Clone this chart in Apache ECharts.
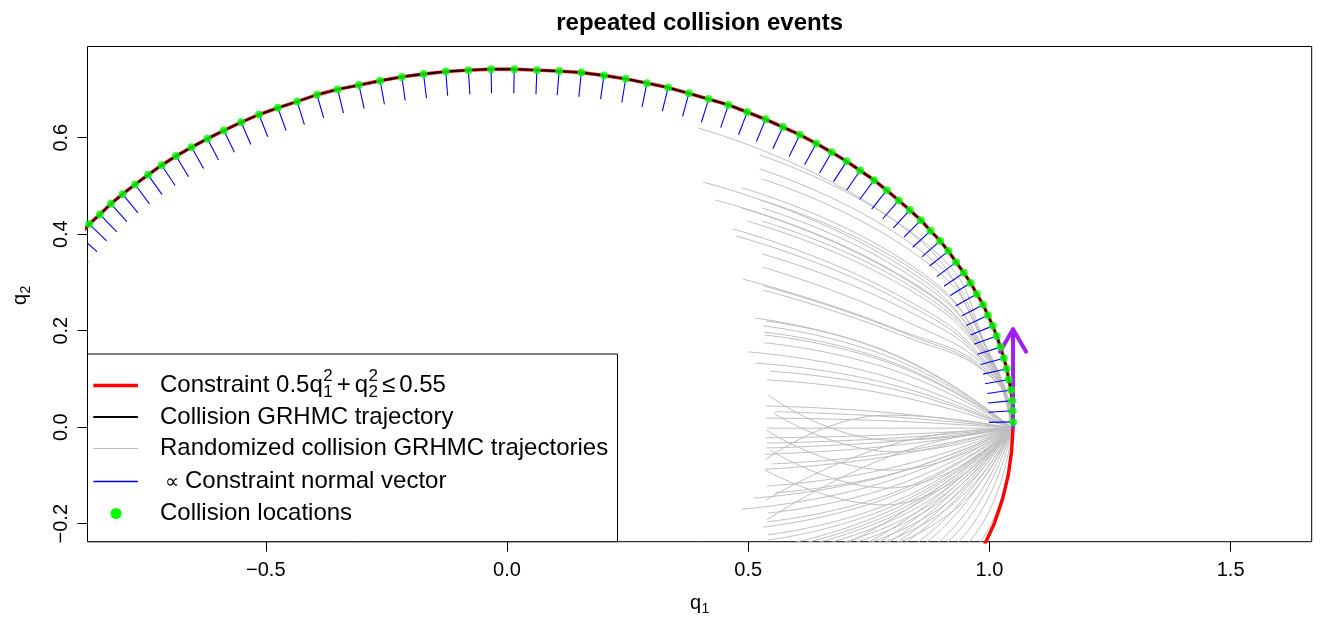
<!DOCTYPE html>
<html><head><meta charset="utf-8">
<script src="https://cdn.jsdelivr.net/npm/echarts/dist/echarts.min.js"></script>
<style>html,body{margin:0;padding:0;background:#fff}#c{width:1327px;height:624px}</style>
</head><body><div id="c"></div>
<script>
// ---------------- data ----------------
const titleText = 'repeated collision events';
const xTicks = [-0.5, 0, 0.5, 1, 1.5];
const xTickLabels = ['\u22120.5', '0.0', '0.5', '1.0', '1.5'];
const yTicks = [-0.2, 0, 0.2, 0.4, 0.6];
const yTickLabels = ['\u22120.2', '0.0', '0.2', '0.4', '0.6'];
const X_MIN = -0.8696, X_MAX = 1.6681;
const Y_MIN = -0.2373, Y_MAX = 0.7890;

// collision locations (green points), ordered along the trajectory
const collisionQ1 = [1.049,1.048,1.047,1.045,1.040,1.036,1.030,1.023,1.015,1.007,0.997,0.987,0.974,0.961,0.947,0.931,0.915,0.898,0.878,0.858,0.835,0.812,0.787,0.761,0.732,0.704,0.673,0.641,0.607,0.572,0.536,0.498,0.459,0.418,0.377,0.334,0.290,0.246,0.201,0.154,0.108,0.062,0.015,-0.033,-0.080,-0.127,-0.173,-0.218,-0.263,-0.307,-0.351,-0.394,-0.435,-0.475,-0.514,-0.551,-0.587,-0.621,-0.654,-0.686,-0.716,-0.744,-0.771,-0.797,-0.821,-0.844,-0.866,-0.887,-0.907];
const collisionQ2 = [0.011,0.034,0.055,0.077,0.099,0.121,0.143,0.166,0.189,0.210,0.232,0.254,0.276,0.299,0.320,0.342,0.365,0.386,0.407,0.429,0.450,0.470,0.491,0.512,0.532,0.551,0.570,0.588,0.606,0.622,0.638,0.653,0.668,0.680,0.692,0.704,0.713,0.722,0.729,0.735,0.738,0.740,0.742,0.742,0.740,0.737,0.732,0.726,0.718,0.709,0.700,0.689,0.675,0.662,0.648,0.632,0.615,0.598,0.580,0.562,0.543,0.523,0.503,0.483,0.463,0.441,0.421,0.397,0.374];
// tips of the (scaled) constraint normal vectors (blue segments)
const normalEndQ1 = [0.999,0.998,0.997,0.996,0.991,0.987,0.982,0.975,0.968,0.961,0.952,0.943,0.930,0.919,0.906,0.891,0.876,0.860,0.841,0.823,0.801,0.779,0.756,0.731,0.704,0.677,0.648,0.617,0.585,0.551,0.517,0.480,0.443,0.403,0.364,0.322,0.280,0.238,0.194,0.149,0.104,0.060,0.014,-0.032,-0.077,-0.123,-0.167,-0.211,-0.254,-0.296,-0.339,-0.380,-0.420,-0.458,-0.496,-0.531,-0.565,-0.598,-0.629,-0.660,-0.688,-0.715,-0.741,-0.765,-0.788,-0.809,-0.830,-0.850,-0.868];
const normalEndQ2 = [0.010,0.031,0.050,0.070,0.090,0.110,0.130,0.151,0.172,0.191,0.211,0.231,0.251,0.273,0.292,0.312,0.334,0.353,0.373,0.394,0.413,0.432,0.452,0.472,0.491,0.509,0.527,0.544,0.561,0.577,0.592,0.606,0.621,0.632,0.644,0.655,0.664,0.673,0.680,0.685,0.688,0.690,0.692,0.692,0.690,0.687,0.682,0.677,0.669,0.660,0.651,0.641,0.627,0.615,0.602,0.586,0.570,0.554,0.536,0.519,0.501,0.482,0.463,0.444,0.426,0.405,0.386,0.364,0.342];

// constraint boundary pieces outside the collision run
const constraintLower = [[0.959,-0.300],[0.987,-0.250],[1.010,-0.200],[1.027,-0.150],[1.039,-0.100],[1.046,-0.050],[1.049,0.000]];
const constraintLeft = [[-0.950,0.314],[-1.000,0.224]];

const trajectoryStart = [1.049, 0.000];
const arrowFrom = [1.049, 0.000];
const arrowTo = [1.049, 0.203];

// randomized trajectories: common start, optional point where it leaves the boundary,
// a mid point and an end point each
const grayStart = [1.047, -0.002];
const grayViaQ1 = [0.998,0.999,1.000,1.001,1.002,1.003,1.004,1.005,1.006,1.007,1.008,1.009,1.010,1.010,1.011,1.012,1.013,1.013,1.014,
  null,null,null,null,null,null,null,null,null,null,
  null,null,null,null,null,null,null,null,null,null,
  null,null,null,null,null,null,null,null,null,
  null,null,null,null,null,null,null,null,null,null,null,null,null,
  null,null,null,null,null,null,null,null,
  null,null,null,null,null,null,null,null,null];
const grayViaQ2 = [0.158,0.154,0.151,0.147,0.144,0.140,0.137,0.133,0.130,0.126,0.122,0.119,0.115,0.112,0.108,0.104,0.101,0.097,0.094,
  null,null,null,null,null,null,null,null,null,null,
  null,null,null,null,null,null,null,null,null,null,
  null,null,null,null,null,null,null,null,null,
  null,null,null,null,null,null,null,null,null,null,null,null,null,
  null,null,null,null,null,null,null,null,
  null,null,null,null,null,null,null,null,null];
const grayMidQ1 = [0.822,0.881,0.874,0.872,0.800,0.843,0.805,0.859,0.830,0.854,0.830,0.848,0.808,0.808,0.831,0.824,0.798,0.818,0.817,
  0.797,0.809,0.804,0.803,0.804,0.801,0.782,0.787,0.801,0.796,
  0.793,0.802,0.792,0.793,0.792,0.793,0.793,0.792,0.800,0.794,
  0.798,0.808,0.787,0.776,0.805,0.806,0.803,0.811,0.812,
  0.703,0.747,0.770,0.792,0.813,0.832,0.858,0.878,0.905,0.925,0.948,0.972,0.996,
  0.804,0.794,0.790,0.784,0.800,0.794,0.800,0.790,
  0.814,0.828,0.842,0.858,0.874,0.889,0.908,0.926,0.944];
const grayMidQ2 = [0.414,0.370,0.353,0.340,0.345,0.332,0.321,0.315,0.304,0.302,0.287,0.285,0.275,0.266,0.241,0.221,0.207,0.197,0.191,
  0.152,0.148,0.141,0.133,0.129,0.118,0.106,0.091,0.079,0.067,
  0.030,0.021,0.013,-0.002,-0.016,-0.023,-0.030,-0.039,-0.053,-0.060,
  -0.084,-0.094,-0.101,-0.116,-0.121,-0.134,-0.141,-0.151,-0.158,
  -0.241,-0.240,-0.239,-0.238,-0.236,-0.235,-0.234,-0.232,-0.229,-0.227,-0.224,-0.220,-0.215,
  -0.051,-0.089,-0.126,-0.161,-0.027,-0.037,-0.058,0.025,
  -0.164,-0.164,-0.163,-0.162,-0.162,-0.161,-0.160,-0.158,-0.157];
const grayEndQ1 = [0.396,0.524,0.524,0.529,0.406,0.487,0.431,0.524,0.487,0.529,0.498,0.529,0.468,0.475,0.529,0.529,0.489,0.531,0.531,
  0.514,0.537,0.531,0.533,0.535,0.533,0.500,0.514,0.545,0.539,
  0.537,0.556,0.537,0.539,0.537,0.539,0.537,0.535,0.549,0.535,
  0.539,0.556,0.512,0.487,0.541,0.539,0.531,0.541,0.541,
  0.301,0.384,0.425,0.466,0.504,0.539,0.587,0.622,0.670,0.705,0.746,0.788,0.829,
  0.553,0.537,0.545,0.535,0.541,0.537,0.539,0.535,
  0.543,0.570,0.597,0.626,0.655,0.684,0.717,0.750,0.784];
const grayEndQ2 = [0.620,0.564,0.535,0.514,0.508,0.496,0.471,0.471,0.454,0.454,0.427,0.427,0.411,0.396,0.359,0.332,0.307,0.293,0.284,
  0.226,0.220,0.210,0.197,0.191,0.175,0.156,0.133,0.116,0.098,
  0.044,0.032,0.019,-0.002,-0.022,-0.033,-0.043,-0.056,-0.076,-0.087,
  -0.122,-0.136,-0.147,-0.170,-0.178,-0.196,-0.207,-0.223,-0.234,
  -0.358,-0.358,-0.358,-0.358,-0.358,-0.358,-0.358,-0.358,-0.358,-0.358,-0.358,-0.358,-0.358,
  0.029,-0.006,-0.047,-0.089,0.067,-0.151,-0.192,-0.068,
  -0.250,-0.250,-0.250,-0.250,-0.250,-0.250,-0.250,-0.250,-0.250];

const legendLabels = ['Collision GRHMC trajectory', 'Randomized collision GRHMC trajectories', 'Constraint normal vector', 'Collision locations'];

// ---------------- styling / layout ----------------
const FONT = '"Liberation Sans", Arial, Helvetica, sans-serif';
const COL = {red:'#FF0000', black:'#000000', gray:'#BEBEBE', blue:'#0000FF', green:'#00FF00', purple:'#A020F0'};

const collisionPts = collisionQ1.map((v, i) => [v, collisionQ2[i]]);
const constraintPts = constraintLower.concat(collisionPts, constraintLeft);
const trajectoryPts = [trajectoryStart].concat(collisionPts);
const normalRows = collisionQ1.map((v, i) => [v, collisionQ2[i], normalEndQ1[i], normalEndQ2[i]]);

function lab(ticks, labels) {
  return v => { for (let i = 0; i < ticks.length; i++) if (Math.abs(ticks[i] - v) < 1e-9) return labels[i]; return ''; };
}

const series = [];
for (let i = 0; i < grayEndQ1.length; i++) {
  const pts = [grayStart];
  if (grayViaQ1[i] !== null) pts.push([grayViaQ1[i], grayViaQ2[i]]);
  pts.push([grayMidQ1[i], grayMidQ2[i]], [grayEndQ1[i], grayEndQ2[i]]);
  series.push({
    type: 'line', silent: true, smooth: true, symbol: 'none', z: 1, clip: true,
    data: pts, lineStyle: {color: COL.gray, width: 1}
  });
}
series.push({type: 'line', silent: true, symbol: 'none', z: 2, clip: true, data: constraintPts,
  lineStyle: {color: COL.red, width: 3.4}});
series.push({type: 'line', silent: true, symbol: 'none', z: 3, clip: true, data: trajectoryPts,
  lineStyle: {color: COL.black, width: 1.8}});
series.push({type: 'custom', silent: true, z: 4, clip: true, data: normalRows,
  encode: {x: [0, 2], y: [1, 3]},
  renderItem: (params, api) => {
    const a = api.coord([api.value(0), api.value(1)]);
    const b = api.coord([api.value(2), api.value(3)]);
    return {type: 'line', shape: {x1: a[0], y1: a[1], x2: b[0], y2: b[1]}, style: {stroke: COL.blue, lineWidth: 1.1}};
  }});
series.push({type: 'custom', silent: true, z: 5, clip: true,
  data: [[arrowFrom[0], arrowFrom[1], arrowTo[0], arrowTo[1]]],
  encode: {x: [0, 2], y: [1, 3]},
  renderItem: (params, api) => {
    const a = api.coord([api.value(0), api.value(1)]);
    const b = api.coord([api.value(2), api.value(3)]);
    const ang = Math.atan2(b[1] - a[1], b[0] - a[0]);
    const L = 26, s = Math.PI / 6;
    const l = [b[0] - L * Math.cos(ang - s), b[1] - L * Math.sin(ang - s)];
    const r = [b[0] - L * Math.cos(ang + s), b[1] - L * Math.sin(ang + s)];
    return {type: 'group', children: [
      {type: 'line', shape: {x1: a[0], y1: a[1], x2: b[0], y2: b[1]}, style: {stroke: COL.purple, lineWidth: 4, lineCap: 'round'}},
      {type: 'polyline', shape: {points: [l, b, r]}, style: {stroke: COL.purple, lineWidth: 4, fill: null, lineCap: 'round', lineJoin: 'round'}}
    ]};
  }});
series.push({type: 'scatter', silent: true, z: 6, data: collisionPts, symbol: 'circle', symbolSize: 8,
  itemStyle: {color: COL.green}});

// ---------------- text measurement for legend math ----------------
const mctx = document.createElement('canvas').getContext('2d');
function tw(str, size, weight) { mctx.font = (weight ? weight + ' ' : '') + size + 'px ' + FONT; return mctx.measureText(str).width; }

const G = [];
function txt(x, y, s, size, opt) {
  opt = opt || {};
  G.push({type: 'text', x: x, y: y, z: 100, silent: true, rotation: opt.rot || 0,
    style: {text: s, fill: '#000', font: (opt.weight ? opt.weight + ' ' : '') + size + 'px ' + FONT,
      textAlign: opt.align || 'left', align: opt.align || 'left',
      textVerticalAlign: opt.va || 'middle', verticalAlign: opt.va || 'middle'}});
}
// title
txt(699.6, 23, titleText, 24, {weight: 'bold', align: 'center'});
// x axis title q1
txt(701, 603, 'q', 20, {align: 'right'});
txt(701.5, 609, '1', 14, {align: 'left'});
// y axis title q2 (rotated)
G.push({type: 'group', x: 20, y: 294, rotation: Math.PI / 2, z: 100, silent: true, children: [
  {type: 'text', x: 0, y: 0, style: {text: 'q', fill: '#000', font: '20px ' + FONT, textAlign: 'right', align: 'right', textVerticalAlign: 'middle', verticalAlign: 'middle'}},
  {type: 'text', x: 0.5, y: 6, style: {text: '2', fill: '#000', font: '14px ' + FONT, textAlign: 'left', align: 'left', textVerticalAlign: 'middle', verticalAlign: 'middle'}}
]});

// legend box
const LB = {x: 87.5, y: 354, w: 530, h: 187.7};
G.push({type: 'rect', z: 99, silent: true, shape: {x: LB.x, y: LB.y, width: LB.w, height: LB.h},
  style: {fill: '#fff', stroke: '#000', lineWidth: 1}});
const rows = [385.5, 417, 448.5, 481.5, 513.5];
const sx1 = 93.3, sx2 = 137.9, tx = 160;
[[COL.red, 3.4], [COL.black, 1.8], [COL.gray, 1], [COL.blue, 1.3]].forEach((c, i) => {
  G.push({type: 'line', z: 100, silent: true, shape: {x1: sx1, y1: rows[i], x2: sx2, y2: rows[i]}, style: {stroke: c[0], lineWidth: c[1]}});
});
G.push({type: 'circle', z: 100, silent: true, shape: {cx: 116, cy: rows[4], r: 5.5}, style: {fill: COL.green}});
// row 1 : Constraint 0.5 q1^2 + q2^2 <= 0.55
(function () {
  const y = rows[0];
  let x = tx;
  const p1 = 'Constraint 0.5q';
  txt(x, y, p1, 24); x += tw(p1, 24);
  txt(x + 0.5, y - 9, '2', 17); txt(x + 0.5, y + 7, '1', 17); x += 0.5 + tw('2', 17) + 4;
  txt(x, y, '+', 24); x += tw('+', 24) + 4;
  txt(x, y, 'q', 24); x += tw('q', 24);
  txt(x + 0.5, y - 9, '2', 17); txt(x + 0.5, y + 7, '2', 17); x += 0.5 + tw('2', 17) + 4;
  txt(x, y, '\u2264', 24); x += tw('\u2264', 24) + 4;
  txt(x, y, '0.55', 24);
})();
txt(tx, rows[1], legendLabels[0], 24);
txt(tx, rows[2], legendLabels[1], 24);
txt(165, rows[3] + 1, '\u221D', 20);
txt(185, rows[3], legendLabels[2], 24);
txt(tx, rows[4], legendLabels[3], 24);

const chart = echarts.init(document.getElementById('c'), null, {renderer: 'canvas', width: 1327, height: 624});
chart.setOption({
  animation: false,
  backgroundColor: '#fff',
  grid: {left: 87.5, top: 46.5, width: 1224.2, height: 495.2, show: true, borderColor: '#000', borderWidth: 1, backgroundColor: 'transparent', containLabel: false},
  xAxis: {type: 'value', min: X_MIN, max: X_MAX, scale: true, position: 'bottom',
    axisLine: {show: false, onZero: false}, splitLine: {show: false},
    axisTick: {show: true, length: 10, customValues: xTicks, lineStyle: {color: '#000', width: 1}},
    axisLabel: {show: true, customValues: xTicks, formatter: lab(xTicks, xTickLabels), color: '#000', fontSize: 20, fontFamily: FONT, margin: 19}},
  yAxis: {type: 'value', min: Y_MIN, max: Y_MAX, scale: true, position: 'left',
    axisLine: {show: false, onZero: false}, splitLine: {show: false},
    axisTick: {show: true, length: 10, customValues: yTicks, lineStyle: {color: '#000', width: 1}},
    axisLabel: {show: true, customValues: yTicks, formatter: lab(yTicks, yTickLabels), color: '#000', fontSize: 20, fontFamily: FONT, margin: 16, rotate: 90}},
  series: series,
  graphic: {elements: G}
});
</script>
</body></html>
